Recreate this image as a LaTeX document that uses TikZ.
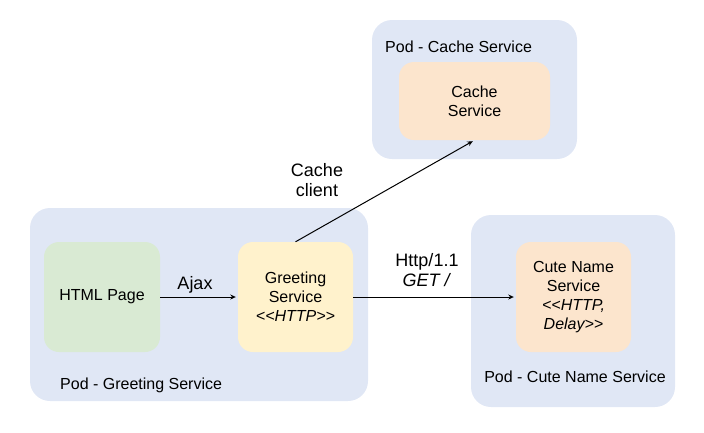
\documentclass[tikz,border=0pt]{standalone}
\usepackage{fontspec}
\setmainfont{Liberation Sans}
\usetikzlibrary{arrows.meta}
\definecolor{podfill}{HTML}{E0E7F5}
\definecolor{greenfill}{HTML}{D9EAD3}
\definecolor{yellowfill}{HTML}{FFF2CC}
\definecolor{orangefill}{HTML}{FCE5CD}
\tikzset{
  pod/.style={rectangle, rounded corners=20pt, fill=podfill, draw=none, inner sep=0pt},
  svc/.style={rectangle, rounded corners=15pt, draw=none, inner sep=0pt, align=center,
    font=\fontsize{16}{19}\selectfont, text=black},
  podlabel/.style={font=\fontsize{16}{19}\selectfont, inner sep=0pt},
  edgelabel/.style={font=\fontsize{18}{20}\selectfont, align=center, inner sep=0pt},
  conn/.style={line width=1pt, -{Stealth[length=5.5pt,width=5pt]}, shorten >=2pt}
}
\begin{document}
\begin{tikzpicture}[x=1pt,y=-1pt]
\useasboundingbox (0,0) rectangle (704,432);
% pods
\node[pod, minimum width=338pt, minimum height=193pt] (podg) at (199,304.5) {};
\node[pod, minimum width=205pt, minimum height=139pt] (podc) at (474.5,89.5) {};
\node[pod, minimum width=204pt, minimum height=192pt] (podn) at (573,311) {};
% services
\node[svc, fill=greenfill, minimum width=116pt, minimum height=110pt] (html) at (102,297) {HTML Page};
\node[svc, fill=yellowfill, minimum width=115pt, minimum height=110pt] (greet) at (295.5,297) {Greeting\\Service\\\textit{<{}<HTTP>{}>}};
\node[svc, fill=orangefill, minimum width=151pt, minimum height=78pt] (cache) at (474.5,101) {Cache\\Service};
\node[svc, fill=orangefill, minimum width=115pt, minimum height=110pt] (cute) at (573.5,297) {Cute Name\\Service\\\textit{<{}<HTTP,}\\\textit{Delay>{}>}};
% pod labels
\node[podlabel, anchor=west] (lg) at (60,385) {Pod - Greeting Service};
\node[podlabel, anchor=west] (lc) at (385,47) {Pod - Cache Service};
\node[podlabel] (ln) at (575,377) {Pod - Cute Name Service};
% connectors
\draw[conn] (html.east) -- (greet.west);
\draw[conn] (greet.east) -- (cute.west);
\draw[conn] (greet.north) -- (cache.south);
% edge labels
\node[edgelabel] (lajax) at (195,285) {Ajax};
\node[edgelabel] (lhttp) at (427,270) {Http/1.1\\\textit{GET /}};
\node[edgelabel] (lcache) at (317,180) {Cache\\client};
\end{tikzpicture}
\end{document}
